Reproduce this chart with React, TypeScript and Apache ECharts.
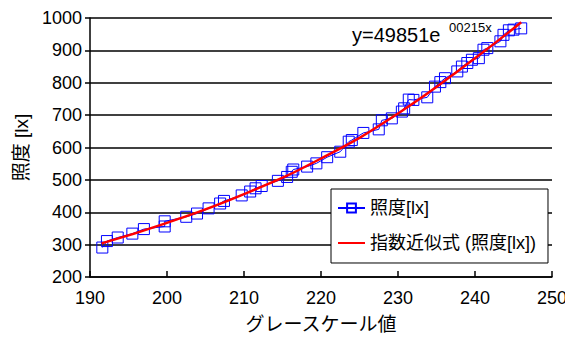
import React, { useEffect, useRef } from "react";
import * as echarts from "echarts";

// Measured points: [gray-scale value, illuminance lx]
const grayValues = [191.6, 192.2, 193.6, 195.5, 197.0, 199.7, 199.7, 202.5, 203.9, 205.4, 206.9, 207.4, 209.7, 210.8, 211.5, 212.3, 214.4, 215.6, 216.2, 216.4, 218.2, 219.4, 220.8, 222.5, 223.6, 224.0, 225.5, 227.5, 227.9, 229.2, 230.5, 230.8, 231.4, 232.0, 233.8, 234.8, 235.5, 236.1, 237.7, 238.3, 239.0, 239.6, 240.5, 241.1, 241.6, 243.3, 243.7, 244.4, 245.0, 246.0];
const luxValues = [291, 311, 322, 334, 348, 356, 372, 386, 396, 412, 427, 435, 452, 464, 474, 481, 497, 509, 525, 532, 541, 551, 570, 587, 618, 623, 645, 656, 684, 690, 711, 721, 748, 747, 755, 788, 802, 814, 835, 850, 861, 871, 876, 902, 907, 928, 948, 962, 964, 968];

// Trend curve
const trendX = [191.5, 200, 210, 220, 230, 240, 246];
const trendY = [304, 367, 456, 566, 705, 876, 987];

const seriesNames = ["照度[lx]", "指数近似式 (照度[lx])"];
const xAxisName = "グレースケール値";
const yAxisName = "照度 [lx]";
const equationMain = "y=49851e";
const equationSup = "00215x";

const FONT = "'Liberation Sans', Arial, 'Noto Sans CJK JP', sans-serif";

export default function App() {
  const ref = useRef<HTMLDivElement>(null);
  useEffect(() => {
    if (!ref.current) return;
    const chart = echarts.init(ref.current, undefined, { renderer: "svg" });
    const measured = grayValues.map((x, i) => [x, luxValues[i]]);
    const trend = trendX.map((x, i) => [x, trendY[i]]);
    chart.setOption({
      animation: false,
      backgroundColor: "#fff",
      textStyle: { fontFamily: FONT, color: "#000" },
      grid: { left: 90, right: 21, top: 18, bottom: 63 },
      xAxis: {
        type: "value",
        min: 190,
        max: 250,
        interval: 10,
        name: xAxisName,
        nameLocation: "middle",
        nameGap: 38,
        nameTextStyle: { fontSize: 19, color: "#000", fontFamily: FONT },
        axisLine: { show: true, lineStyle: { color: "#000", width: 1.5 } },
        axisTick: { show: true, inside: true, length: 6, lineStyle: { color: "#000", width: 1.5 } },
        axisLabel: { fontSize: 18, color: "#000", margin: 12, fontFamily: FONT, formatter: (v: number) => String(v) },
        splitLine: { show: false },
      },
      yAxis: {
        type: "value",
        min: 200,
        max: 1000,
        interval: 100,
        name: yAxisName,
        nameLocation: "middle",
        nameGap: 52,
        nameRotate: 90,
        nameTextStyle: { fontSize: 19, color: "#000", fontFamily: FONT },
        axisLine: { show: true, lineStyle: { color: "#000", width: 1.5 } },
        axisTick: { show: true, inside: false, length: 5, lineStyle: { color: "#000", width: 1.5 } },
        axisLabel: { fontSize: 18, color: "#000", margin: 8, fontFamily: FONT, formatter: (v: number) => String(v) },
        splitLine: { show: true, lineStyle: { color: "#000", width: 1.5 } },
      },
      legend: {
        orient: "vertical",
        left: 331,
        top: 189,
        padding: [10, 12, 11, 6],
        itemGap: 17,
        itemWidth: 27,
        itemHeight: 11,
        backgroundColor: "#fff",
        borderColor: "#000",
        borderWidth: 1,
        textStyle: { fontSize: 18, color: "#000", fontFamily: FONT },
        data: [
          { name: seriesNames[0] },
          { name: seriesNames[1], itemStyle: { color: "rgba(0,0,0,0)", borderWidth: 0, opacity: 0 } },
        ],
      },
      graphic: [
        {
          type: "text",
          left: 352,
          top: 25,
          style: { text: equationMain, fontSize: 20, fill: "#000", fontFamily: FONT },
        },
        {
          type: "text",
          left: 449,
          top: 21,
          style: { text: equationSup, fontSize: 13, fill: "#000", fontFamily: FONT },
        },
      ],
      series: [
        {
          name: seriesNames[0],
          type: "line",
          data: measured,
          symbol: "rect",
          symbolSize: 11,
          showAllSymbol: true,
          lineStyle: { color: "#0000ff", width: 1 },
          itemStyle: { color: "rgba(255,255,255,0)", borderColor: "#0000ff", borderWidth: 1 },
          z: 2,
        },
        {
          name: seriesNames[1],
          type: "line",
          data: trend,
          smooth: true,
          symbol: "none",
          lineStyle: { color: "#ff0000", width: 2.5 },
          itemStyle: { color: "#ff0000" },
          z: 3,
        },
      ],
    });
    return () => chart.dispose();
  }, []);
  return <div ref={ref} style={{ width: 573, height: 340, marginLeft: -8, marginTop: -8 }} />;
}
